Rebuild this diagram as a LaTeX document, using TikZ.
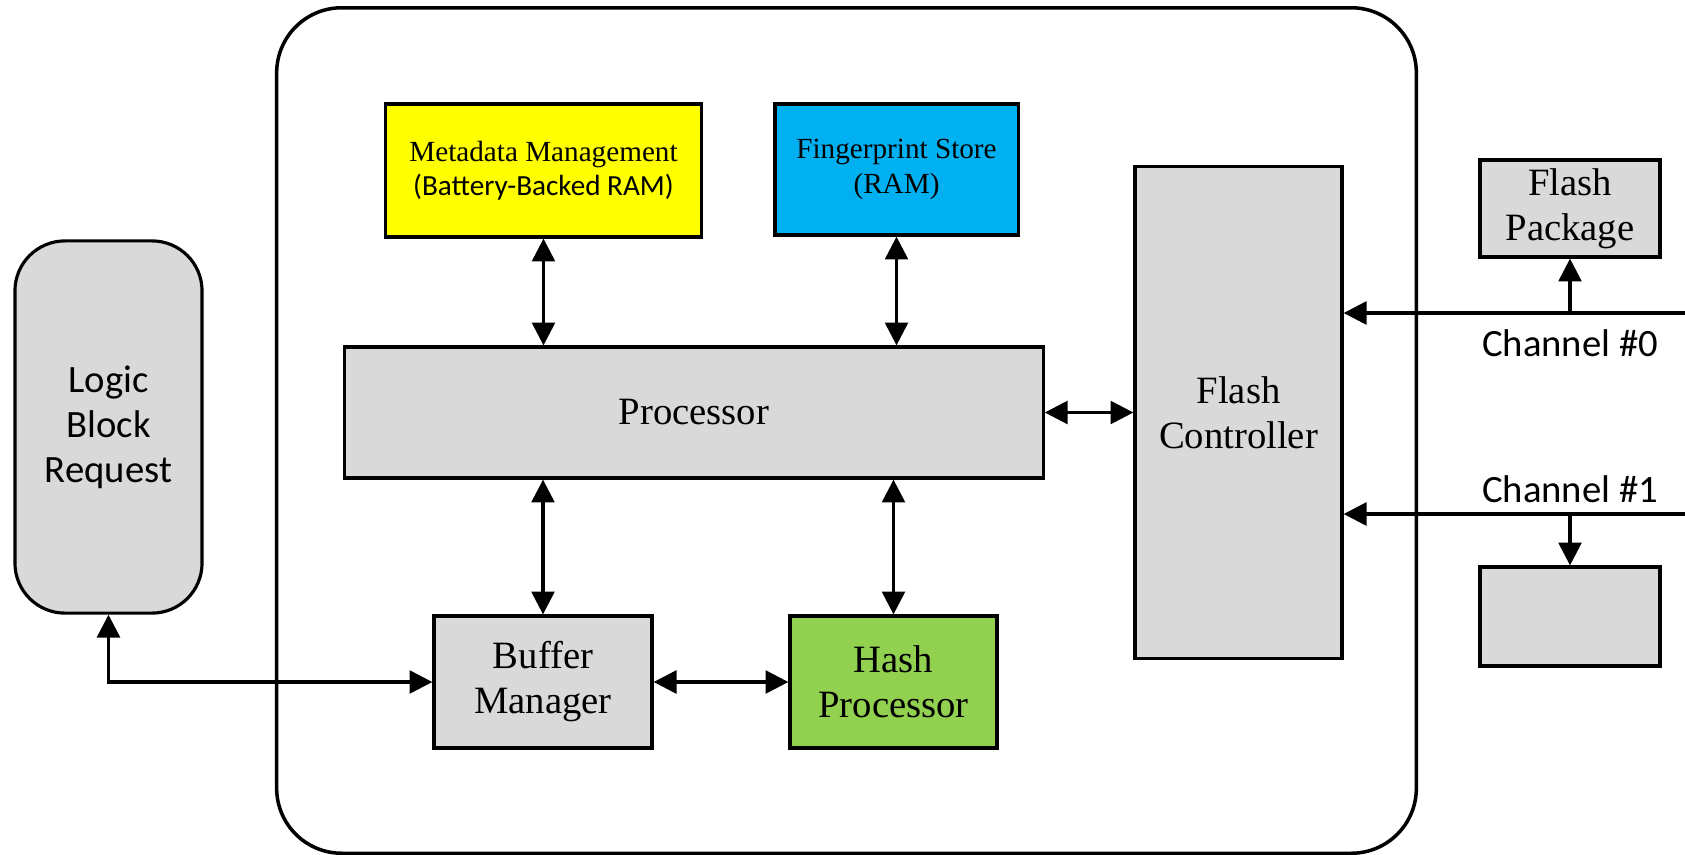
\documentclass[tikz,border=0pt]{standalone}
\usepackage{fontspec}
\setmainfont{Liberation Serif}
\newfontfamily\calibri{Carlito}
\usetikzlibrary{shapes,arrows.meta}
\definecolor{boxgray}{HTML}{D9D9D9}
\definecolor{metayellow}{HTML}{FFFF00}
\definecolor{fpblue}{HTML}{00B0F0}
\definecolor{hashgreen}{HTML}{92D050}
\newcommand{\bigtxt}{\fontsize{11}{12.8}\selectfont}
\newcommand{\smalltxt}{\fontsize{8.3}{9.8}\selectfont}

\begin{document}
\begin{tikzpicture}
      [x=0.01cm, y=-0.01cm,
      >={Triangle[length=6.5pt,width=6.5pt]},
      block/.style={rectangle, draw, line width=0.9pt, fill=boxgray, inner sep=0pt,
        align=center, font=\bigtxt},
      smallblock/.style={block, font=\smalltxt},
      link/.style={<->, line width=0.9pt},
      chan/.style={->, line width=0.9pt}]
      \useasboundingbox (0,0) rectangle (1685,854);
      % Place nodes
      \node [draw, line width=1pt, rounded corners=0.65cm, minimum width=11.39cm,
        minimum height=8.45cm] (ssd) at (846.5,430.5) {};
      \node [block, rounded corners=0.5cm, minimum width=1.87cm, minimum height=3.72cm,
        font=\bigtxt\calibri] (logic) at (108.5,427) {Logic\\Block\\Request};
      \node [smallblock, fill=metayellow, minimum width=3.15cm, minimum height=1.33cm]
        (meta) at (543.5,170.5) {Metadata Management\\{\calibri (Battery-Backed RAM)}};
      \node [smallblock, fill=fpblue, minimum width=2.43cm, minimum height=1.31cm]
        (finger) at (896.5,169.5) {Fingerprint Store\\(RAM)};
      \node [block, minimum width=6.98cm, minimum height=1.31cm] (proc) at (694,412.5) {Processor};
      \node [block, minimum width=2.07cm, minimum height=4.91cm] (fc) at (1238.5,412.5) {Flash\\Controller};
      \node [block, minimum width=2.18cm, minimum height=1.32cm] (buf) at (543,682) {Buffer\\Manager};
      \node [block, fill=hashgreen, minimum width=2.07cm, minimum height=1.32cm]
        (hash) at (893.5,682) {Hash\\Processor};
      \node [block, minimum width=1.8cm, minimum height=0.97cm] (pkg0) at (1570,208.5) {Flash\\Package};
      \node [block, minimum width=1.8cm, minimum height=0.99cm] (pkg1) at (1570,616.5) {};
      \coordinate (ch0) at (1685,313);
      \coordinate (ch1) at (1685,514);
      \node [font=\bigtxt\calibri] (lab0) at (1570,343) {Channel \#0};
      \node [font=\bigtxt\calibri] (lab1) at (1570,489) {Channel \#1};
      % Draw edges
      \draw [link] (meta.south) -- (meta.south |- proc.north);
      \draw [link] (finger.south) -- (finger.south |- proc.north);
      \draw [link] (buf.north |- proc.south) -- (buf.north);
      \draw [link] (hash.north |- proc.south) -- (hash.north);
      \draw [link] (proc.east) -- (fc.west);
      \draw [link] (buf.east) -- (hash.west);
      \draw [link] (logic.south) |- (buf.west);
      \draw [chan] (ch0) -- (ch0 -| fc.east);
      \draw [chan] (ch1) -- (ch1 -| fc.east);
      \draw [chan] (pkg0.south |- ch0) -- (pkg0.south);
      \draw [chan] (pkg1.north |- ch1) -- (pkg1.north);
    \end{tikzpicture}
\end{document}
